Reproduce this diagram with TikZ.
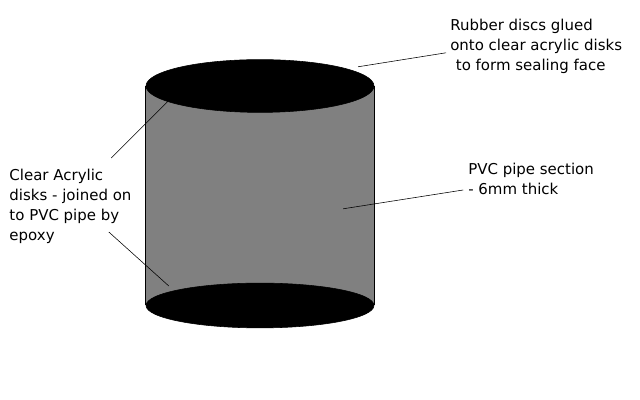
\documentclass[tikz,border=0pt]{standalone}
\usepackage{fontspec}
\setmainfont{DejaVu Sans}
\usetikzlibrary{shapes.geometric}
\definecolor{pipegray}{HTML}{808080}

\begin{document}
\begin{tikzpicture}
	\tikzstyle{disc} = [ellipse,fill=black,draw=black,inner sep=0pt,minimum width=5.7cm]
	\tikzstyle{pipe} = [rectangle,fill=pipegray,draw=none,inner sep=0pt]
	\tikzstyle{note} = [align=left,anchor=north west,inner sep=0pt,font=\fontsize{10.65}{14.25}\selectfont]
	\tikzstyle{edge} = [-,line width=0.4pt]
	\useasboundingbox (0,0) rectangle (16,10);
	\node[pipe,minimum width=5.7cm,minimum height=5.475cm] (pipe) at (6.5,5.1125) {};
	\draw[edge,line width=0.6pt] (pipe.north west)--(pipe.south west);
	\draw[edge,line width=0.6pt] (pipe.north east)--(pipe.south east);
	\node[disc,minimum height=1.32cm] (top) at (6.5,7.85) {};
	\node[disc,minimum height=1.12cm] (bottom) at (6.5,2.3625) {};
	\node[note] (rubber) at (11.25,9.53) {Rubber discs glued\\onto clear acrylic disks\\\hspace*{4pt}to form sealing face};
	\node[note] (section) at (11.7,5.93) {PVC pipe section\\- 6mm thick};
	\node[note] (acrylic) at (0.23,5.78) {Clear Acrylic\\disks - joined on\\to PVC pipe by\\epoxy};
	\coordinate (r1) at (11.15,8.68);
	\coordinate (r2) at (8.95,8.33);
	\coordinate (s1) at (11.58,5.25);
	\coordinate (s2) at (8.58,4.78);
	\coordinate (a1) at (2.78,6.05);
	\coordinate (a2) at (4.2,7.47);
	\coordinate (a3) at (2.72,4.2);
	\coordinate (a4) at (4.22,2.85);
	\draw[edge] (r1)--(r2);
	\draw[edge] (s1)--(s2);
	\draw[edge] (a1)--(a2);
	\draw[edge] (a3)--(a4);
\end{tikzpicture}
\end{document}
